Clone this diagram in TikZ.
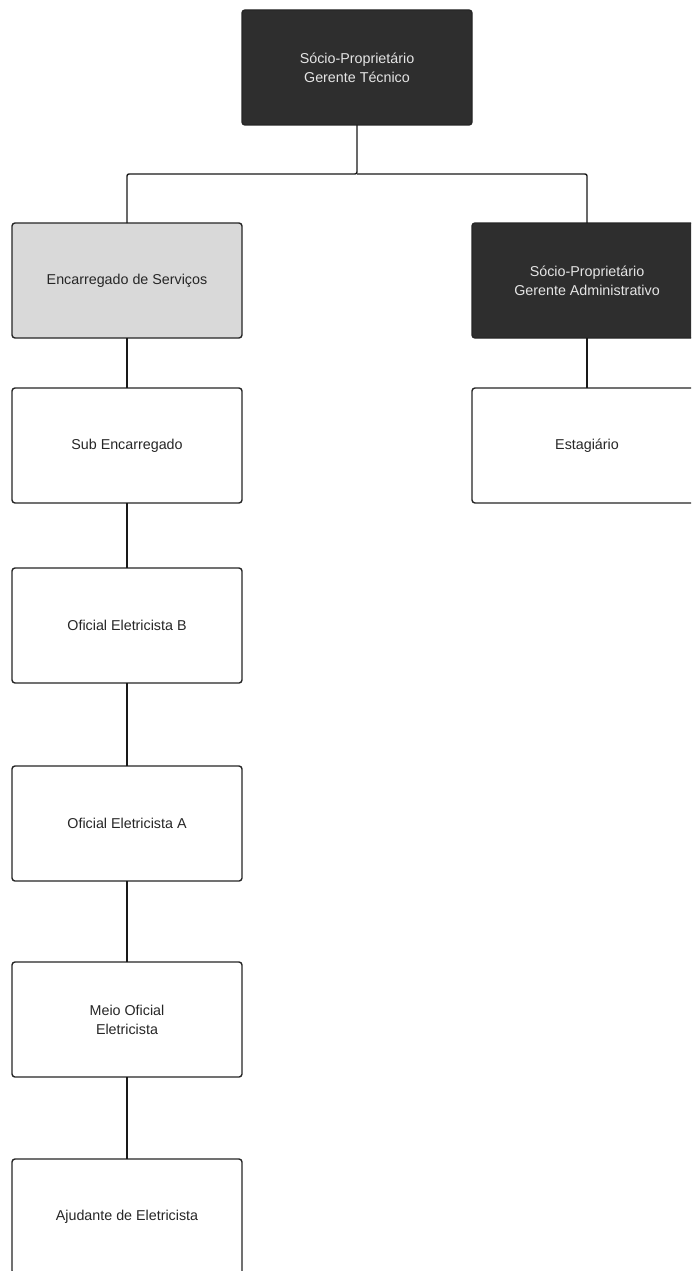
\documentclass[tikz,border=0pt]{standalone}
\usepackage{fontspec}
\setmainfont{Liberation Sans}
\begin{document}
\begin{tikzpicture}[x=1pt,y=1pt,
  box/.style={draw=black!85, line width=1.4pt, rounded corners=3pt, minimum width=230pt, minimum height=115pt, inner sep=0pt, outer sep=0pt, align=center, font=\fontsize{14.3}{19}\selectfont, text=black!85, anchor=north west},
  darkbox/.style={box, fill=black!82, text=white!90!black},
  graybox/.style={box, fill=black!15},
  whitebox/.style={box, fill=white},
  conn/.style={draw=black!90, line width=1.4pt, rounded corners=2pt}]
\useasboundingbox (0,0) rectangle (691,-1271);
\clip (0,0) rectangle (691,-1271);
\fill[white] (0,0) rectangle (691,-1271);
\node[darkbox] (top) at (242,-10) {Sócio-Proprietário\\Gerente Técnico};
\node[graybox] (enc) at (12,-223) {Encarregado de Serviços};
\node[darkbox] (adm) at (472,-223) {Sócio-Proprietário\\Gerente Administrativo};
\node[whitebox] (sub) at (12,-388) {Sub Encarregado};
\node[whitebox] (est) at (472,-388) {Estagiário};
\node[whitebox] (ofb) at (12,-568) {Oficial Eletricista B};
\node[whitebox] (ofa) at (12,-766) {Oficial Eletricista A};
\node[whitebox] (meio) at (12,-962) {Meio Oficial\\Eletricista};
\node[whitebox] (aju) at (12,-1159) {Ajudante de Eletricista};
\coordinate (bus) at (357,-174);
\draw[conn] (top.south) -- (bus) -| (enc.north);
\draw[conn] (bus) -| (adm.north);
\draw[conn] (enc.south) -- (sub.north);
\draw[conn] (adm.south) -- (est.north);
\draw[conn] (sub.south) -- (ofb.north);
\draw[conn] (ofb.south) -- (ofa.north);
\draw[conn] (ofa.south) -- (meio.north);
\draw[conn] (meio.south) -- (aju.north);
\end{tikzpicture}
\end{document}
